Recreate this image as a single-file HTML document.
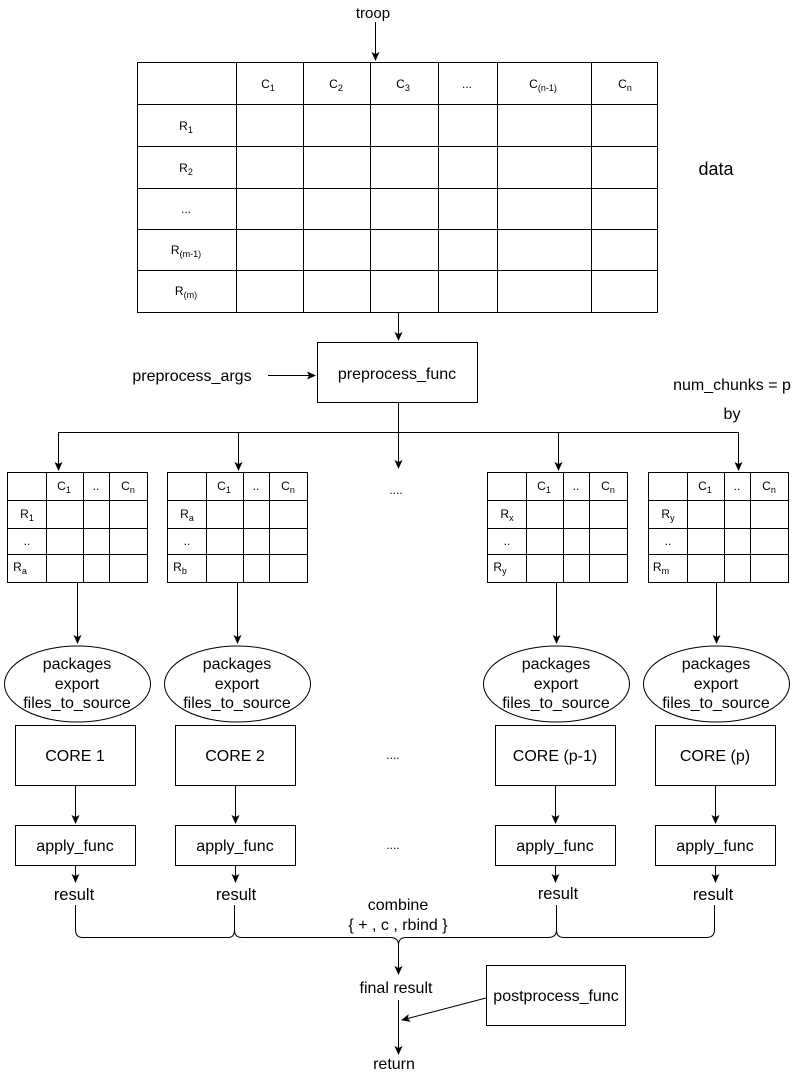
<!DOCTYPE html>
<html><head><meta charset="utf-8"><style>
body{margin:0;background:#fff}
svg text{font-family:"Liberation Sans",Arial,sans-serif;fill:#000}
</style></head><body>
<svg width="808" height="1074" viewBox="0 0 808 1074" xmlns="http://www.w3.org/2000/svg">
<defs><marker id="a" markerWidth="10" markerHeight="10" refX="8" refY="5" orient="auto" markerUnits="userSpaceOnUse"><path d="M0,1 L9,5 L0,9 L2,5 Z" fill="#000"/></marker></defs>
<g stroke="#000" stroke-width="1" fill="none">
<rect x="137.5" y="62.5" width="520" height="250" fill="#fff"/>
<path d="M236.5 62.5V312.5M303.5 62.5V312.5M370.5 62.5V312.5M438.5 62.5V312.5M497.5 62.5V312.5M591.5 62.5V312.5M137.5 104.5H657.5M137.5 146.5H657.5M137.5 188.5H657.5M137.5 229.5H657.5M137.5 270.5H657.5"/>
<path d="M375.5 22V60" marker-end="url(#a)"/>
<path d="M398.5 312V340" marker-end="url(#a)"/>
<rect x="317.5" y="342.5" width="160" height="60"/>
<path d="M268 375.5H315" marker-end="url(#a)"/>
<path d="M398.5 403V468" marker-end="url(#a)"/>
<path d="M58.5 432.5H738.5"/>
<path d="M58.5 432V470" marker-end="url(#a)"/>
<path d="M238.5 432V470" marker-end="url(#a)"/>
<path d="M738.5 432V470" marker-end="url(#a)"/>
<path d="M558.5 432V470" marker-end="url(#a)"/>
</g>
<g stroke="#000" fill="none">
<g id="t1">
<rect x="7.5" y="472.5" width="140" height="110" fill="#fff"/>
<path d="M46.5 472.5V582.5M83.5 472.5V582.5M109.5 472.5V582.5M7.5 500.5H147.5M7.5 528.5H147.5M7.5 554.5H147.5"/>
</g>
<use href="#t1" x="160"/>
<use href="#t1" x="480"/>
<use href="#t1" x="641"/>
<path d="M77.5 582V643" marker-end="url(#a)"/>
<path d="M237.5 582V643" marker-end="url(#a)"/>
<path d="M556.5 582V643" marker-end="url(#a)"/>
<path d="M716.5 582V643" marker-end="url(#a)"/>
<ellipse cx="77.5" cy="684" rx="73" ry="38"/>
<ellipse cx="237.5" cy="684" rx="73" ry="38"/>
<ellipse cx="556.5" cy="684" rx="73" ry="38"/>
<ellipse cx="716.5" cy="684" rx="73" ry="38"/>
<rect x="15.5" y="725.5" width="120" height="60"/><rect x="175.5" y="725.5" width="120" height="60"/>
<rect x="495.5" y="725.5" width="120" height="60"/><rect x="655.5" y="725.5" width="120" height="60"/>
<path d="M75.5 786V823" marker-end="url(#a)"/><path d="M235.5 786V823" marker-end="url(#a)"/><path d="M555.5 786V823" marker-end="url(#a)"/><path d="M715.5 786V823" marker-end="url(#a)"/>
<rect x="15.5" y="825.5" width="120" height="40"/><rect x="175.5" y="825.5" width="120" height="40"/>
<rect x="495.5" y="825.5" width="120" height="40"/><rect x="655.5" y="825.5" width="120" height="40"/>
<path d="M75.5 866V882" marker-end="url(#a)"/><path d="M235.5 866V882" marker-end="url(#a)"/><path d="M555.5 866V882" marker-end="url(#a)"/><path d="M715.5 866V882" marker-end="url(#a)"/>
<path d="M75.5 905V930Q75.5 937.5 83 937.5H228Q234.5 937.5 234.5 930V905"/>
<path d="M234.5 930Q234.5 937.5 242 937.5H390Q398.5 937.5 398.5 945Q398.5 937.5 406 937.5H548Q556.5 937.5 556.5 930V905"/>
<path d="M556.5 930Q556.5 937.5 564 937.5H706Q714.5 937.5 714.5 930V905"/>
<path d="M398.5 944V974" marker-end="url(#a)"/>
<path d="M398.5 1000V1054" marker-end="url(#a)"/>
<rect x="486.5" y="965.5" width="139" height="60"/>
<path d="M486 998L402 1020" marker-end="url(#a)"/>
</g>
<g font-size="16" text-anchor="middle">
<text x="373" y="18" font-size="15">troop</text>
<text x="716" y="175" font-size="18">data</text>
<text x="397" y="379">preprocess_func</text>
<text x="192" y="381">preprocess_args</text>
<text x="732" y="390">num_chunks = p</text>
<text x="732" y="419">by</text>
<g font-size="12">
<text x="268" y="88">C<tspan font-size="9" dy="3">1</tspan></text>
<text x="336" y="88">C<tspan font-size="9" dy="3">2</tspan></text>
<text x="403" y="88">C<tspan font-size="9" dy="3">3</tspan></text>
<text x="467" y="88">...</text>
<text x="543" y="88">C<tspan font-size="9" dy="3">(n-1)</tspan></text>
<text x="625" y="88">C<tspan font-size="9" dy="3">n</tspan></text>
<text x="186" y="130">R<tspan font-size="9" dy="3">1</tspan></text>
<text x="186" y="172">R<tspan font-size="9" dy="3">2</tspan></text>
<text x="186" y="213">...</text>
<text x="186" y="254">R<tspan font-size="9" dy="3">(m-1)</tspan></text>
<text x="186" y="295">R<tspan font-size="9" dy="3">(m)</tspan></text>
</g>
<g font-size="12">
<g id="h"><text x="64" y="490">C<tspan font-size="9" dy="3">1</tspan></text><text x="96" y="490">..</text><text x="128" y="490">C<tspan font-size="9" dy="3">n</tspan></text></g>
<use href="#h" x="160"/><use href="#h" x="480"/><use href="#h" x="641"/>
<text x="27" y="518">R<tspan font-size="9" dy="3">1</tspan></text><text x="27" y="545">..</text><text x="20" y="571">R<tspan font-size="9" dy="3">a</tspan></text>
<text x="187" y="518">R<tspan font-size="9" dy="3">a</tspan></text><text x="187" y="545">..</text><text x="180" y="571">R<tspan font-size="9" dy="3">b</tspan></text>
<text x="507" y="518">R<tspan font-size="9" dy="3">x</tspan></text><text x="507" y="545">..</text><text x="500" y="571">R<tspan font-size="9" dy="3">y</tspan></text>
<text x="668" y="518">R<tspan font-size="9" dy="3">y</tspan></text><text x="668" y="545">..</text><text x="661" y="571">R<tspan font-size="9" dy="3">m</tspan></text>
<text x="396" y="494">....</text>
<text x="393" y="759">....</text>
<text x="393" y="849">....</text>
</g>
<g id="e"><text x="77" y="669">packages</text><text x="77" y="689">export</text><text x="77" y="708">files_to_source</text></g>
<use href="#e" x="160"/><use href="#e" x="479"/><use href="#e" x="639"/>
<text x="75" y="761">CORE 1</text>
<text x="235" y="761">CORE 2</text>
<text x="555" y="761">CORE (p-1)</text>
<text x="715" y="761">CORE (p)</text>
<text x="75" y="851">apply_func</text><text x="235" y="851">apply_func</text><text x="555" y="851">apply_func</text><text x="715" y="851">apply_func</text>
<g font-size="16.5"><text x="74" y="900">result</text><text x="236" y="900">result</text><text x="558" y="899">result</text><text x="713" y="900">result</text></g>
<text x="398" y="910">combine</text>
<text x="398" y="930">{ + , c , rbind }</text>
<text x="396" y="993">final result</text>
<text x="556" y="1001">postprocess_func</text>
<text x="394" y="1069">return</text>
</g>
</svg>
</body></html>
